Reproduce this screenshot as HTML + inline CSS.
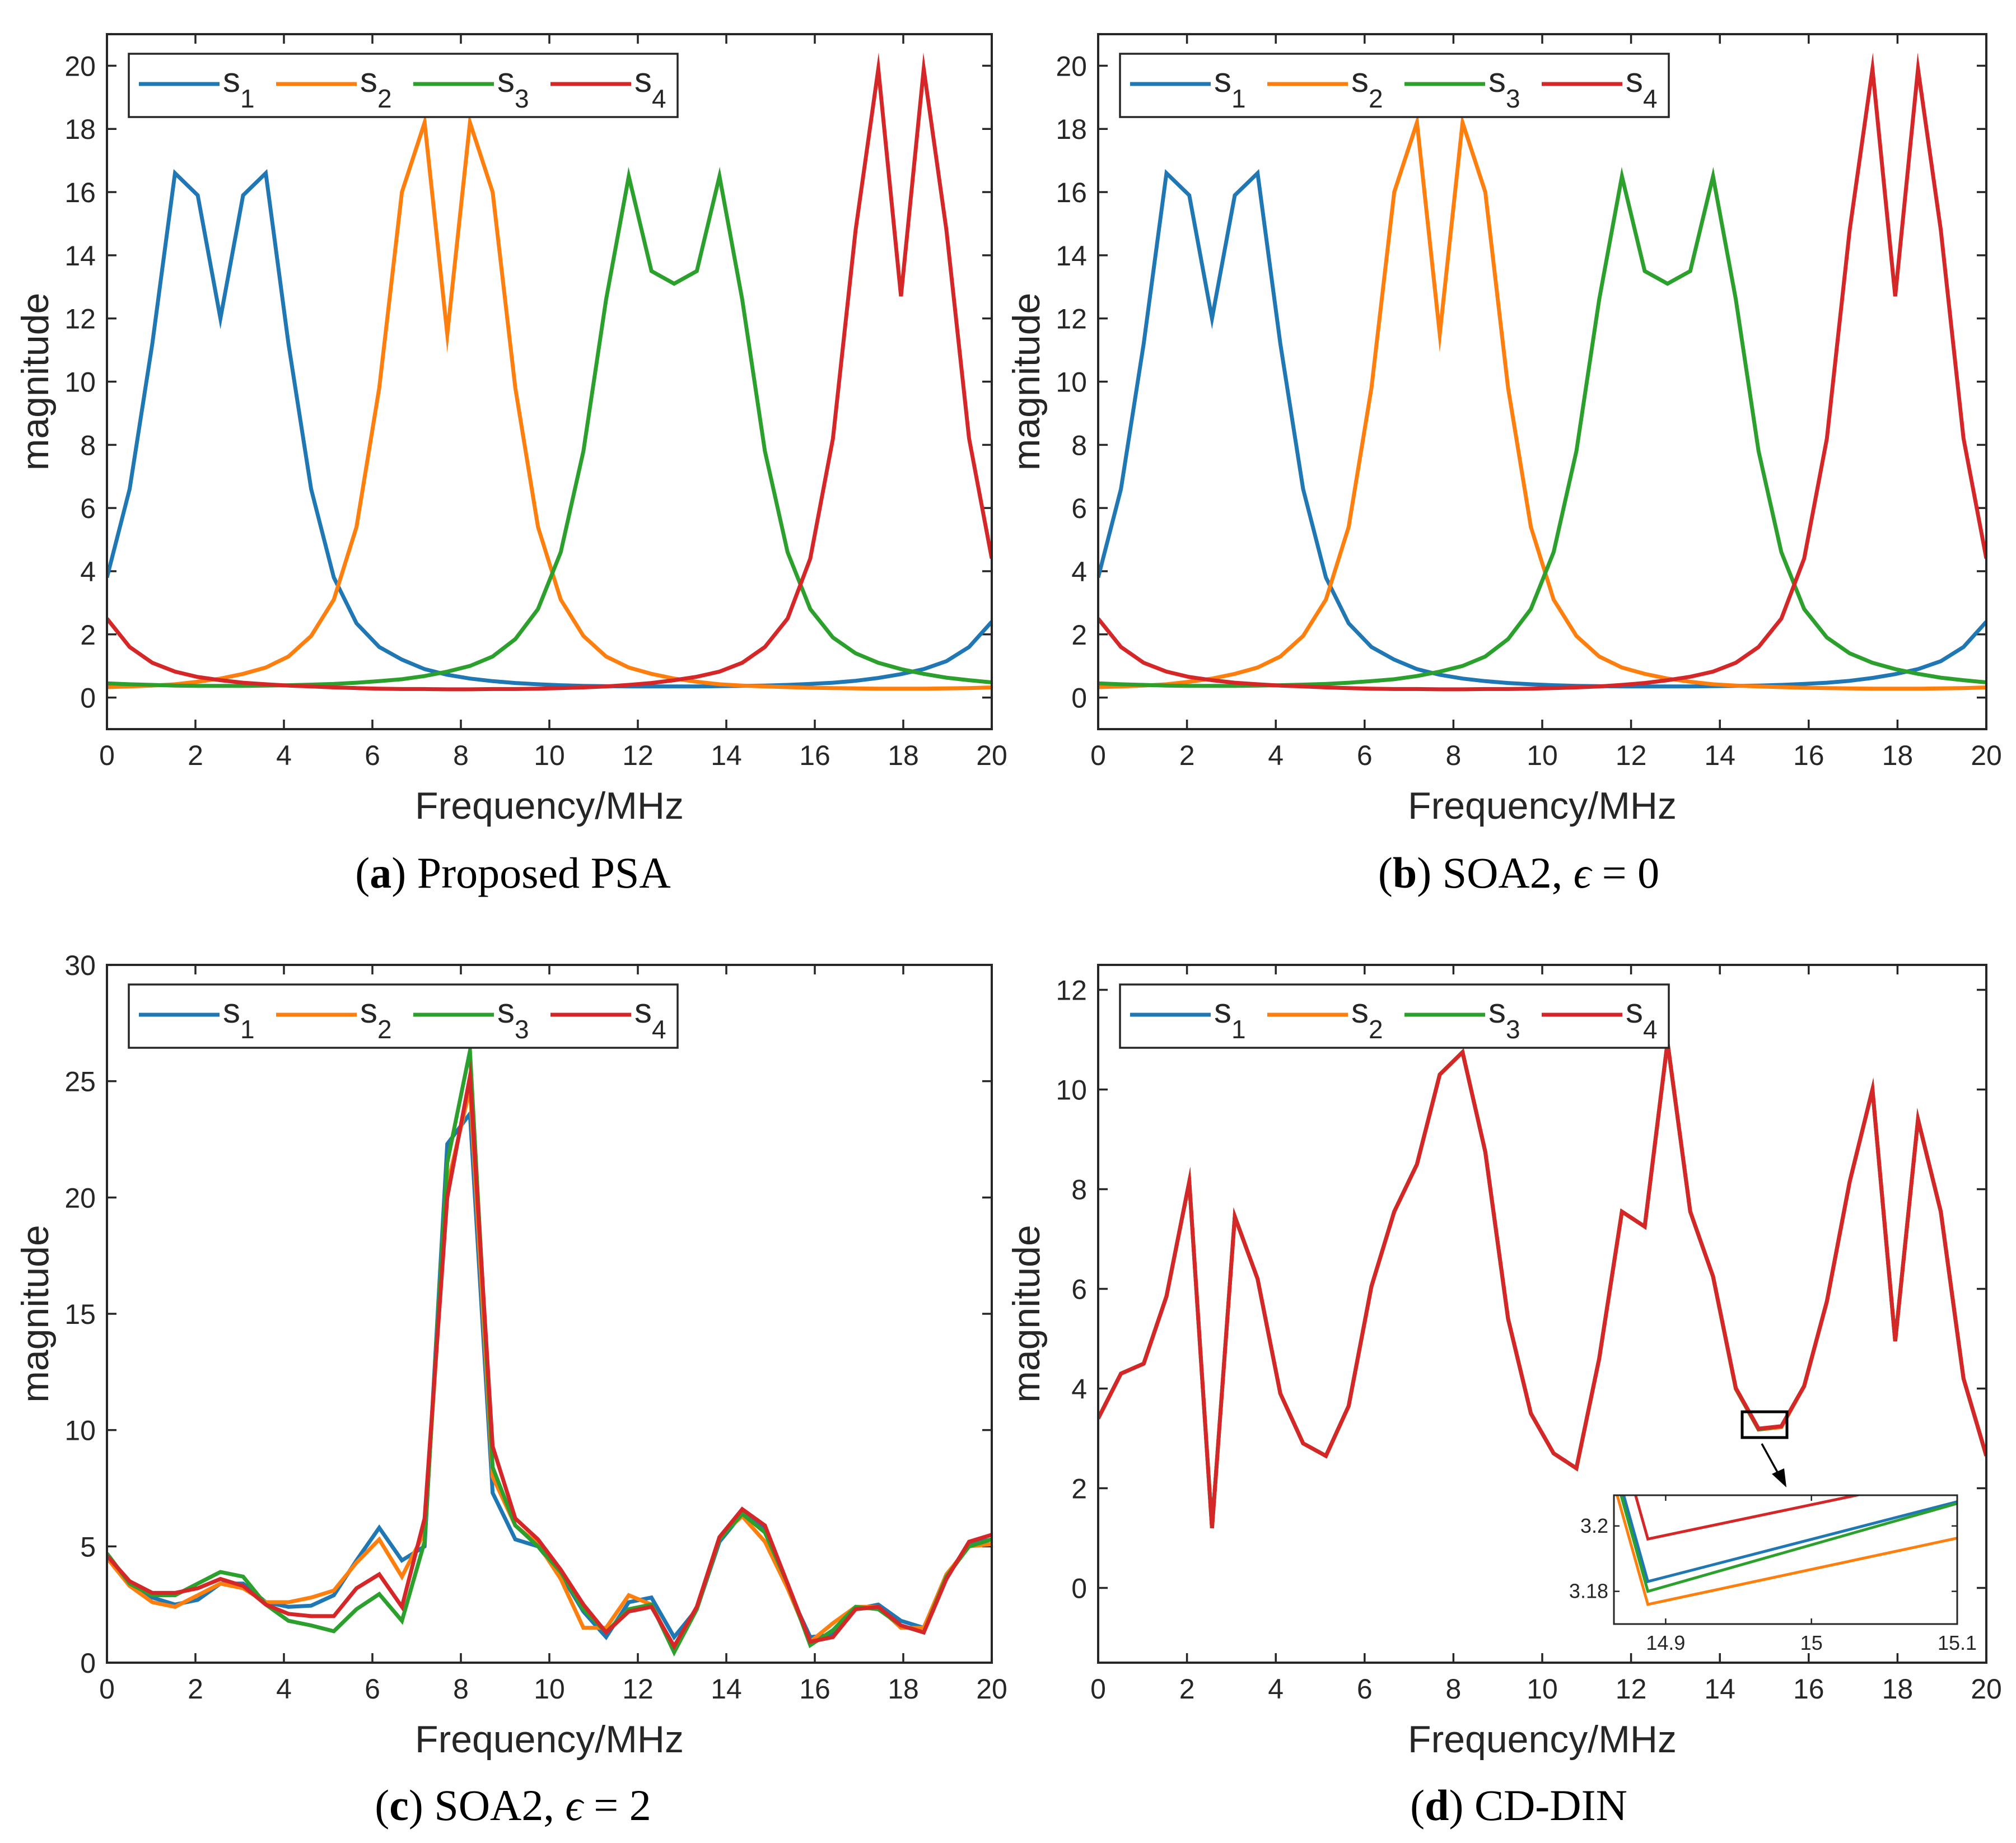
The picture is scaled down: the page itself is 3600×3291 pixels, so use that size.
<!DOCTYPE html>
<html><head><meta charset="utf-8"><style>
html,body{margin:0;padding:0;background:#fff;overflow:hidden;width:3600px;height:3291px}
svg{display:block}
text{font-family:"Liberation Sans",sans-serif;fill:#262626}
.cap{font-family:"Liberation Serif",serif;fill:#000}
</style></head><body>
<svg id="fig" width="3600" height="3291" viewBox="0 0 3600 3291" xmlns="http://www.w3.org/2000/svg"></svg>
<script>
const freqCount = 40;
const xTicks = [0,2,4,6,8,10,12,14,16,18,20];
const yTicksAB = [0,2,4,6,8,10,12,14,16,18,20];
const yTicksC = [0,5,10,15,20,25,30];
const yTicksD = [0,2,4,6,8,10,12];
const insetXTicks = [14.9,15,15.1];
const insetYTicks = [3.18,3.2];
const seriesNames = ["s1","s2","s3","s4"];
const colors = ["#1f77b4","#ff7f0e","#2ca02c","#d62728"];

const psaS1 = [3.8,6.6,11.2,16.6,15.9,12.0,15.9,16.6,11.2,6.6,3.8,2.35,1.6,1.2,0.9,0.72,0.6,0.52,0.46,0.42,0.39,0.37,0.36,0.35,0.35,0.35,0.35,0.36,0.37,0.38,0.4,0.43,0.47,0.53,0.62,0.74,0.9,1.15,1.6,2.4];
const psaS2 = [0.33,0.35,0.38,0.42,0.5,0.6,0.75,0.95,1.3,1.95,3.1,5.4,9.8,16.0,18.2,11.5,18.2,16.0,9.8,5.4,3.1,1.95,1.3,0.95,0.75,0.6,0.5,0.42,0.38,0.35,0.33,0.31,0.3,0.29,0.28,0.28,0.28,0.29,0.3,0.32];
const psaS3 = [0.45,0.42,0.4,0.38,0.37,0.37,0.37,0.38,0.39,0.41,0.43,0.47,0.52,0.58,0.68,0.82,1.0,1.3,1.85,2.8,4.6,7.8,12.6,16.5,13.5,13.1,13.5,16.5,12.6,7.8,4.6,2.8,1.9,1.4,1.1,0.9,0.75,0.63,0.55,0.48];
const psaS4 = [2.5,1.6,1.1,0.82,0.65,0.55,0.47,0.42,0.38,0.35,0.32,0.3,0.28,0.27,0.27,0.26,0.26,0.27,0.27,0.28,0.3,0.32,0.35,0.4,0.46,0.55,0.66,0.82,1.1,1.6,2.5,4.4,8.2,14.8,19.9,12.7,19.9,14.8,8.2,4.4];

const soa0S1 = psaS1.slice(), soa0S2 = psaS2.slice(), soa0S3 = psaS3.slice(), soa0S4 = psaS4.slice();

const soa2S1 = [4.5,3.4,2.8,2.5,2.7,3.4,3.4,2.6,2.4,2.45,2.9,4.4,5.8,4.4,5.0,22.3,23.6,7.3,5.3,5.0,3.8,2.2,1.1,2.6,2.8,1.1,2.3,5.2,6.4,5.8,3.2,1.1,1.2,2.3,2.5,1.8,1.5,3.7,5.1,5.3];
const soa2S2 = [4.5,3.3,2.6,2.4,2.9,3.4,3.2,2.6,2.6,2.8,3.1,4.3,5.3,3.7,5.6,20.5,24.7,8.0,5.9,5.1,3.6,1.5,1.5,2.9,2.5,0.6,2.4,5.4,6.3,5.2,3.2,0.9,1.7,2.4,2.4,1.5,1.5,3.8,5.0,5.1];
const soa2S3 = [4.7,3.4,2.9,2.9,3.4,3.9,3.7,2.5,1.8,1.6,1.35,2.3,2.95,1.8,5.2,21.5,26.3,8.4,5.9,5.0,3.9,2.3,1.3,2.3,2.5,0.45,2.3,5.3,6.4,5.6,3.4,0.75,1.4,2.4,2.3,1.6,1.3,3.7,5.0,5.3];
const soa2S4 = [4.6,3.5,3.0,3.0,3.2,3.6,3.3,2.5,2.1,2.0,2.0,3.2,3.8,2.4,6.2,20.0,25.2,9.3,6.2,5.3,4.0,2.5,1.3,2.2,2.4,0.7,2.4,5.4,6.6,5.9,3.4,0.9,1.1,2.3,2.4,1.6,1.3,3.6,5.2,5.5];

const cdS1 = [3.4,4.3,4.5,5.85,8.15,1.2,7.45,6.2,3.9,2.9,2.65,3.65,6.05,7.55,8.5,10.3,10.75,8.75,5.4,3.5,2.7,2.4,4.6,7.55,7.25,10.95,7.55,6.25,4.0,3.183,3.242,4.05,5.75,8.15,10.0,4.95,9.4,7.55,4.2,2.65];
const cdS2 = [3.4,4.3,4.5,5.85,8.15,1.2,7.45,6.2,3.9,2.9,2.65,3.65,6.05,7.55,8.5,10.3,10.75,8.75,5.4,3.5,2.7,2.4,4.6,7.55,7.25,10.95,7.55,6.25,3.99,3.176,3.225,4.05,5.75,8.15,10.0,4.95,9.4,7.55,4.2,2.65];
const cdS3 = [3.4,4.3,4.5,5.85,8.15,1.2,7.45,6.2,3.9,2.9,2.65,3.65,6.05,7.55,8.5,10.3,10.75,8.75,5.4,3.5,2.7,2.4,4.6,7.55,7.25,10.95,7.55,6.25,4.0,3.180,3.245,4.05,5.75,8.15,10.0,4.95,9.4,7.55,4.2,2.65];
const cdS4 = [3.4,4.3,4.5,5.85,8.15,1.2,7.45,6.2,3.9,2.9,2.65,3.65,6.05,7.55,8.5,10.3,10.75,8.75,5.4,3.5,2.7,2.4,4.6,7.55,7.25,10.95,7.55,6.25,4.01,3.196,3.244,4.05,5.75,8.15,10.0,4.95,9.4,7.55,4.2,2.65];

const NS = "http://www.w3.org/2000/svg";
const svg = document.getElementById("fig");
function el(tag, attrs, parent, txt){
  const e = document.createElementNS(NS, tag);
  for (const k in attrs) e.setAttribute(k, attrs[k]);
  if (txt !== undefined) e.textContent = txt;
  (parent||svg).appendChild(e);
  return e;
}
function freqAt(i){ return i*20/(freqCount-1); }

function drawPanel(id, box, ymin, ymax, yTicks, series, caption, capX, capY){
  const g = el("g", {}, svg);
  
  
  const xs = v => box.l + (v-0)/(20-0)*(box.r-box.l);
  const ys = v => box.b - (v-ymin)/(ymax-ymin)*(box.b-box.t);
  const cp = el("clipPath", {id:"clip-"+id}, g);
  el("rect", {x:box.l, y:box.t, width:box.r-box.l, height:box.b-box.t}, cp);
  el("rect", {x:box.l, y:box.t, width:box.r-box.l, height:box.b-box.t, fill:"#fff"}, g);
  xTicks.forEach(v=>{
    const x = xs(v);
    el("line",{x1:x,y1:box.b,x2:x,y2:box.b-17,stroke:"#262626","stroke-width":3.5},g);
    el("line",{x1:x,y1:box.t,x2:x,y2:box.t+17,stroke:"#262626","stroke-width":3.5},g);
    const t = el("text",{x:x,y:box.b+64,"font-size":50,"text-anchor":"middle"},g,String(v));
    
    
  });
  yTicks.forEach(v=>{
    const y = ys(v);
    el("line",{x1:box.l,y1:y,x2:box.l+17,y2:y,stroke:"#262626","stroke-width":3.5},g);
    el("line",{x1:box.r,y1:y,x2:box.r-17,y2:y,stroke:"#262626","stroke-width":3.5},g);
    const t = el("text",{x:box.l-20,y:y+18,"font-size":50,"text-anchor":"end"},g,String(v));
    
    
  });
  const lines = el("g",{"clip-path":"url(#clip-"+id+")"},g);
  series.forEach((arr,si)=>{
    const pts = arr.map((v,i)=>xs(freqAt(i)).toFixed(1)+","+ys(v).toFixed(1)).join(" ");
    const p = el("polyline",{points:pts,fill:"none",stroke:colors[si],"stroke-width":7,"stroke-linejoin":"miter","stroke-miterlimit":10},lines);
    
    
  });
  el("rect",{x:box.l,y:box.t,width:box.r-box.l,height:box.b-box.t,fill:"none",stroke:"#262626","stroke-width":4},g);
  const lg = el("g",{},g);
  
  
  const lx = box.l+39, ly = box.t+35;
  el("rect",{x:lx,y:ly,width:980,height:113,fill:"#fff",stroke:"#262626","stroke-width":3.5},lg);
  seriesNames.forEach((n,si)=>{
    const ex = lx + 18 + si*245;
    const cy = ly + 54;
    const ln = el("line",{x1:ex,y1:cy,x2:ex+144,y2:cy,stroke:colors[si],"stroke-width":7},lg);
    
    
    const t = el("text",{x:ex+150,y:cy+14,"font-size":62},lg);
    
    
    el("tspan",{},t,"s");
    el("tspan",{dy:28,"font-size":46},t,String(si+1));
  });
  const xl = el("text",{x:(box.l+box.r)/2,y:box.b+160,"font-size":68,"text-anchor":"middle"},g,"Frequency/MHz");
  
  
  const yc = (box.t+box.b)/2, yx = box.l-105;
  const yl = el("text",{x:yx,y:yc,"font-size":68,"text-anchor":"middle",transform:"rotate(-90 "+yx+" "+yc+")"},g,"magnitude");
  
  
  const cap = el("text",{x:capX,y:capY,"font-size":78,"text-anchor":"middle","class":"cap"},g);
  
  
  el("tspan",{},cap,"(");
  el("tspan",{"font-weight":"bold"},cap,caption[0]);
  el("tspan",{},cap,") ");
  caption[1].forEach(part=>{
    el("tspan",part.italic?{"font-style":"italic"}:{},cap,part.t);
  });
  return {xs, ys, g};
}

drawPanel("a",{l:191,r:1771,t:61,b:1302},-1,21,yTicksAB,[psaS1,psaS2,psaS3,psaS4],["a",[{t:"Proposed PSA"}]],916,1585);
drawPanel("b",{l:1961,r:3547,t:61,b:1302},-1,21,yTicksAB,[soa0S1,soa0S2,soa0S3,soa0S4],["b",[{t:"SOA2, "},{t:"ϵ",italic:true},{t:" = 0"}]],2712,1585);
drawPanel("c",{l:191,r:1771,t:1723,b:2969},0,30,yTicksC,[soa2S1,soa2S2,soa2S3,soa2S4],["c",[{t:"SOA2, "},{t:"ϵ",italic:true},{t:" = 2"}]],916,3250);
const pd = drawPanel("d",{l:1961,r:3547,t:1723,b:2969},-1.5,12.5,yTicksD,[cdS1,cdS2,cdS3,cdS4],["d",[{t:"CD-DIN"}]],2712,3250);

const zr = el("rect",{x:3111,y:2521,width:80,height:46,fill:"none",stroke:"#000","stroke-width":5},pd.g);


el("line",{x1:3146,y1:2578,x2:3178,y2:2636,stroke:"#000","stroke-width":3.5},pd.g);
const ah = el("polygon",{points:"3190,2656 3164,2632 3186,2622",fill:"#000"},pd.g);



(function(){
  const box = {l:2882,r:3495,t:2670,b:2900};
  const x0=14.8645,x1=15.1,y0=3.170,y1=3.2094;
  const shift = 0.016;
  const xs = v => box.l + (v-x0)/(x1-x0)*(box.r-box.l);
  const xd = v => xs(v+shift);
  const ys = v => box.b - (v-y0)/(y1-y0)*(box.b-box.t);
  const g = el("g",{},pd.g);
  
  
  const cp = el("clipPath",{id:"clip-inset"},g);
  el("rect",{x:box.l,y:box.t,width:box.r-box.l,height:box.b-box.t}, cp);
  el("rect",{x:box.l,y:box.t,width:box.r-box.l,height:box.b-box.t,fill:"#fff"},g);
  insetXTicks.forEach(v=>{
    const x=xs(v);
    el("line",{x1:x,y1:box.b,x2:x,y2:box.b-10,stroke:"#262626","stroke-width":2.5},g);
    el("line",{x1:x,y1:box.t,x2:x,y2:box.t+10,stroke:"#262626","stroke-width":2.5},g);
    el("text",{x:x,y:box.b+46,"font-size":36,"text-anchor":"middle"},g,String(v));
  });
  insetYTicks.forEach(v=>{
    const y=ys(v);
    el("line",{x1:box.l,y1:y,x2:box.l+10,y2:y,stroke:"#262626","stroke-width":2.5},g);
    el("line",{x1:box.r,y1:y,x2:box.r-10,y2:y,stroke:"#262626","stroke-width":2.5},g);
    el("text",{x:box.l-10,y:y+12,"font-size":36,"text-anchor":"end"},g,String(v));
  });
  const lines = el("g",{"clip-path":"url(#clip-inset)"},g);
  [cdS1,cdS2,cdS3,cdS4].forEach((arr,si)=>{
    const pts = arr.map((v,i)=>xd(freqAt(i)).toFixed(1)+","+ys(v).toFixed(1)).join(" ");
    const p = el("polyline",{points:pts,fill:"none",stroke:colors[si],"stroke-width":5},lines);
    
    
  });
  el("rect",{x:box.l,y:box.t,width:box.r-box.l,height:box.b-box.t,fill:"none",stroke:"#262626","stroke-width":3},g);
})();
</script>
</body></html>
